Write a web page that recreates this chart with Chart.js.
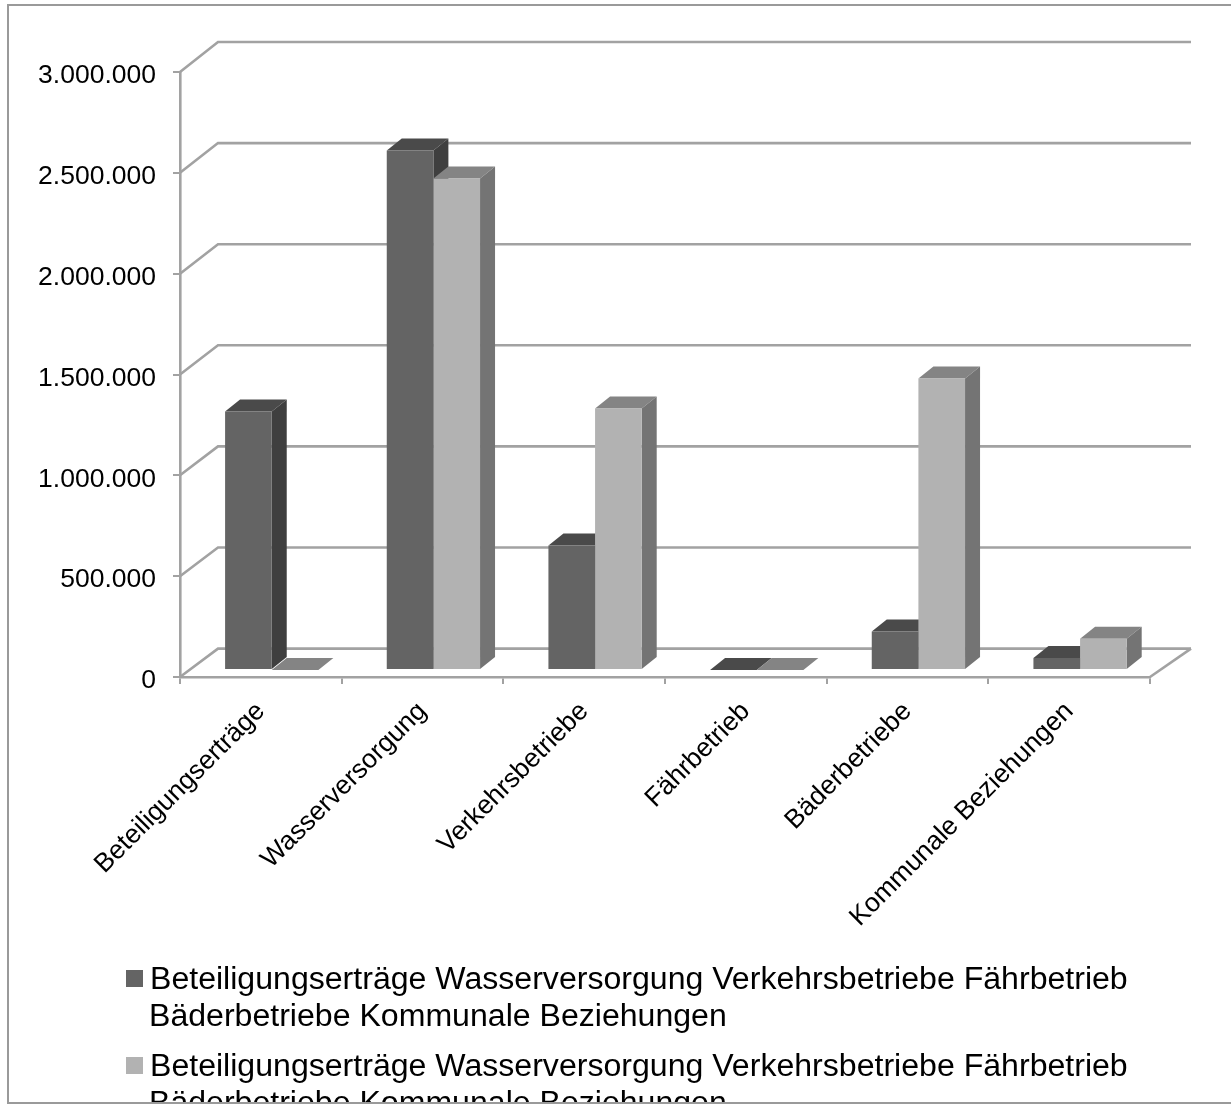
<!DOCTYPE html>
<html>
<head>
<meta charset="utf-8">
<style>html,body{margin:0;padding:0;background:#fff}canvas{display:block}</style>
<script src="https://cdn.jsdelivr.net/npm/chart.js@4/dist/chart.umd.min.js"></script>
</head>
<body>
<canvas id="c" width="1231" height="1104"></canvas>
<script>
const categories = ['Beteiligungserträge','Wasserversorgung','Verkehrsbetriebe','Fährbetrieb','Bäderbetriebe','Kommunale Beziehungen'];
const seriesA = [1282000,2576000,617000,0,191000,60000];
const seriesB = [0,2437000,1297000,0,1445000,155000];
const yTickLabels = ['0','500.000','1.000.000','1.500.000','2.000.000','2.500.000','3.000.000'];
const legendLines = [
  ['Beteiligungserträge Wasserversorgung Verkehrsbetriebe Fährbetrieb','Bäderbetriebe Kommunale Beziehungen'],
  ['Beteiligungserträge Wasserversorgung Verkehrsbetriebe Fährbetrieb','Bäderbetriebe Kommunale Beziehungen']
];
const FONT = '"Liberation Sans", Arial, sans-serif';
const GRID = '#a2a2a2';
const faces = [
  {front:'#646464', side:'#3f3f3f', top:'#4a4a4a'},
  {front:'#b2b2b2', side:'#747474', top:'#848484'}
];
const WALL = {dx:38, dyFloor:-28.4, dyTop:-30};
const PLANE = {dx:10.9, dy:-7};
const DEPTH = {dx:15, dy:-12};
const Y_LABEL_SHIFT = 4;

function drawFaces(ctx, meta, f){
  meta.data.forEach(b=>{
    const {x,y,base,width} = b.getProps(['x','y','base','width'],true);
    const l=x-width/2, r=x+width/2;
    ctx.fillStyle=f.top;
    ctx.beginPath();ctx.moveTo(l,y);ctx.lineTo(l+DEPTH.dx,y+DEPTH.dy);ctx.lineTo(r+DEPTH.dx,y+DEPTH.dy);ctx.lineTo(r,y);ctx.closePath();ctx.fill();
    ctx.fillStyle=f.side;
    ctx.beginPath();ctx.moveTo(r,y);ctx.lineTo(r+DEPTH.dx,y+DEPTH.dy);ctx.lineTo(r+DEPTH.dx,base+DEPTH.dy);ctx.lineTo(r,base);ctx.closePath();ctx.fill();
  });
}

const frame3d = {
  id:'frame3d',
  beforeDatasetsDraw(chart){
    const {ctx, chartArea:a, scales:{y}} = chart;
    ctx.save();
    ctx.strokeStyle = GRID; ctx.lineWidth = 2.6; ctx.lineJoin='miter';
    y.ticks.forEach(t=>{
      const py = y.getPixelForValue(t.value);
      const dy = WALL.dyFloor + (WALL.dyTop-WALL.dyFloor)*(t.value/y.max);
      ctx.beginPath();
      ctx.moveTo(a.left,py);
      ctx.lineTo(a.left+WALL.dx,py+dy);
      ctx.lineTo(1191,py+dy);
      ctx.stroke();
    });
    const py0 = y.getPixelForValue(0);
    ctx.beginPath();
    ctx.moveTo(a.right,py0);
    ctx.lineTo(a.right+WALL.dx+3,py0+WALL.dyFloor);
    ctx.stroke();
    // the dark series' side and top lie behind everything of the light series
    ctx.translate(PLANE.dx,PLANE.dy);
    drawFaces(ctx, chart.getDatasetMeta(0), faces[0]);
    ctx.restore();
  },
  beforeDatasetDraw(chart,args){
    const {ctx} = chart;
    ctx.save();
    ctx.translate(PLANE.dx,PLANE.dy);
    if(args.index===1) drawFaces(ctx, args.meta, faces[1]);
  },
  afterDatasetDraw(chart){ chart.ctx.restore(); },
  beforeDraw(chart){
    const {ctx} = chart;
    chart.scales.y.getLabelItems(chart.chartArea).forEach(it=>{
      if(!it._shifted){ it.textOffset += Y_LABEL_SHIFT; it._shifted = true; }
    });
    ctx.save();
    ctx.strokeStyle='#9a9a9a'; ctx.lineWidth=2;
    ctx.beginPath();
    ctx.moveTo(8,1104);ctx.lineTo(8,5);ctx.lineTo(1231,5);
    ctx.moveTo(8,1103);ctx.lineTo(1231,1103);
    ctx.stroke();
    ctx.restore();
  },
  afterDraw(chart){
    const {ctx} = chart;
    ctx.save();
    ctx.beginPath();ctx.rect(0,0,1231,1102);ctx.clip();
    ctx.font='32.1px '+FONT;
    ctx.textBaseline='alphabetic';
    ctx.textAlign='left';
    const ys=[[989,1026],[1076,1113]];
    const sw=[970,1057];
    legendLines.forEach((lines,i)=>{
      ctx.fillStyle=faces[i].front;
      ctx.fillRect(126,sw[i],17,17);
      ctx.fillStyle='#000';
      ctx.fillText(lines[0],150,ys[i][0]);
      ctx.fillText(lines[1],149,ys[i][1]);
    });
    ctx.restore();
  }
};

new Chart(document.getElementById('c'),{
  type:'bar',
  data:{labels:categories,datasets:[
    {label:legendLines[0].join(' '),data:seriesA,backgroundColor:faces[0].front,clip:false,barPercentage:1,categoryPercentage:0.577},
    {label:legendLines[1].join(' '),data:seriesB,backgroundColor:faces[1].front,clip:false,barPercentage:1,categoryPercentage:0.577}
  ]},
  options:{
    responsive:false,animation:false,
    layout:{padding:{top:72,right:81,left:0,bottom:0}},
    plugins:{legend:{display:false},tooltip:{enabled:false}},
    scales:{
      x:{
        afterFit(s){s.height=427;},
        grid:{offset:true,drawOnChartArea:false,color:GRID,lineWidth:2,tickLength:7},
        border:{color:GRID,width:2.6},
        ticks:{color:'#000',font:{family:FONT,size:26.5},minRotation:45,maxRotation:45,padding:12,autoSkip:false}
      },
      y:{
        min:0,max:3000000,
        afterFit(s){s.width=180;},
        grid:{drawOnChartArea:false,color:GRID,lineWidth:2,tickLength:7},
        border:{color:GRID,width:2.6},
        ticks:{color:'#000',font:{family:FONT,size:26.5},stepSize:500000,padding:17,
          callback(v,i){return yTickLabels[i];}}
      }
    }
  },
  plugins:[frame3d]
});
</script>
</body>
</html>
